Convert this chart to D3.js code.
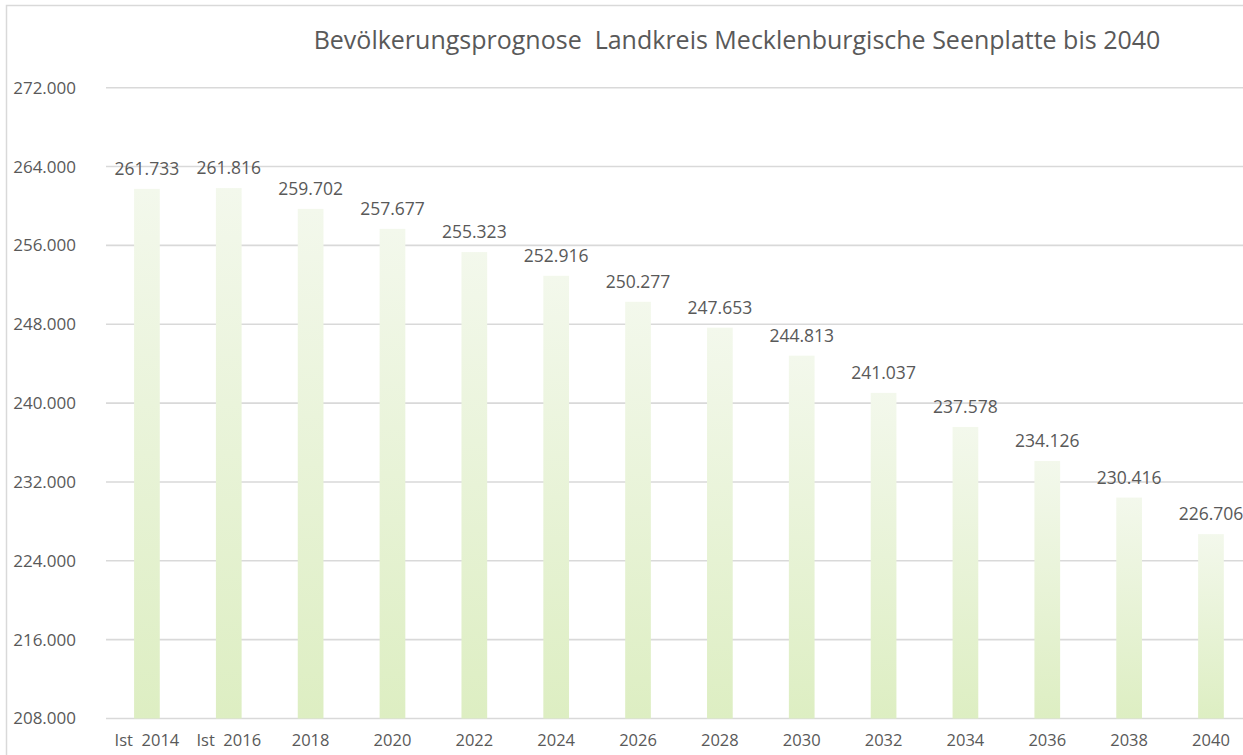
<!DOCTYPE html>
<html>
<head>
<meta charset="utf-8">
<script src="https://cdn.jsdelivr.net/npm/d3@7"></script>
<style>
  body { margin: 0; background: #fff; }
  text { font-family: "Open Sans", sans-serif; fill: #595959; }
</style>
</head>
<body>
<script>
const width = 1243;
const height = 755;

//-----------------------------DATA------------------------------//
const years = ["Ist  2014", "Ist  2016", "2018", "2020", "2022", "2024", "2026",
  "2028", "2030", "2032", "2034", "2036", "2038", "2040"];
const population = [261733, 261816, 259702, 257677, 255323, 252916, 250277,
  247653, 244813, 241037, 237578, 234126, 230416, 226706];
const yTicks = [208000, 216000, 224000, 232000, 240000, 248000, 256000, 264000, 272000];
const title = "Bevölkerungsprognose  Landkreis Mecklenburgische Seenplatte bis 2040";

const de = d3.formatLocale({ decimal: ",", thousands: ".", grouping: [3], currency: ["", " €"] });
const fmt = de.format(",d");

const svg = d3.select("body").append("svg")
  .attr("width", width).attr("height", height);

// gradient for bars
const grad = svg.append("defs").append("linearGradient")
  .attr("id", "barGrad").attr("x1", 0).attr("y1", 0).attr("x2", 0).attr("y2", 1);
grad.append("stop").attr("offset", "0%").attr("stop-color", "#f3f8ec");
grad.append("stop").attr("offset", "100%").attr("stop-color", "#ddeec2");

// chart frame
svg.append("path")
  .attr("d", "M6.5," + height + "V5.5H" + width)
  .attr("fill", "none").attr("stroke", "#d9d9d9").attr("stroke-width", 1.5);

//----------------------------SCALES-----------------------------//
const step = 81.85;
const xScale = d3.scaleBand().domain(years)
  .range([106, 106 + step * years.length])
  .paddingInner(0.686).paddingOuter(0.343);
const yScale = d3.scaleLinear().domain([208000, 272000]).range([718.5, 87.7]);

//-----------------------------GRID------------------------------//
svg.append("g").selectAll("line").data(yTicks).enter().append("line")
  .attr("x1", 106).attr("x2", width)
  .attr("y1", d => yScale(d)).attr("y2", d => yScale(d))
  .attr("stroke", "#d9d9d9").attr("stroke-width", 1.6);

// y axis labels
const yaxis = d3.axisLeft(yScale).tickValues(yTicks).tickFormat(fmt).tickSize(0).tickPadding(0);
const yg = svg.append("g").attr("transform", "translate(76,0)").call(yaxis);
yg.select(".domain").remove();
yg.selectAll("text").attr("font-size", 17).attr("fill", "#595959")
  .style("font-family", "'Open Sans', sans-serif");

//----------------------------BARS------------------------------//
svg.append("g").selectAll("rect").data(population).enter().append("rect")
  .attr("x", (d, i) => xScale(years[i]))
  .attr("width", xScale.bandwidth())
  .attr("y", d => yScale(d))
  .attr("height", d => yScale(208000) - yScale(d))
  .attr("fill", "url(#barGrad)");

// value labels
svg.append("g").selectAll("text").data(population).enter().append("text")
  .attr("x", (d, i) => xScale(years[i]) + xScale.bandwidth() / 2)
  .attr("y", d => yScale(d) - 14)
  .attr("text-anchor", "middle")
  .attr("font-size", 17.5)
  .text(d => fmt(d));

// x axis labels
const xaxis = d3.axisBottom(xScale).tickSize(0).tickPadding(0);
const xg = svg.append("g").attr("transform", "translate(0,734)").call(xaxis);
xg.select(".domain").remove();
xg.selectAll("text").attr("font-size", 16.5).attr("fill", "#595959")
  .attr("dy", "0.71em").style("white-space", "pre")
  .style("font-family", "'Open Sans', sans-serif");

//----------------------------TITLE------------------------------//
svg.append("text")
  .attr("x", 737).attr("y", 49)
  .attr("text-anchor", "middle")
  .attr("font-size", 25)
  .style("white-space", "pre")
  .text(title);
</script>
</body>
</html>
